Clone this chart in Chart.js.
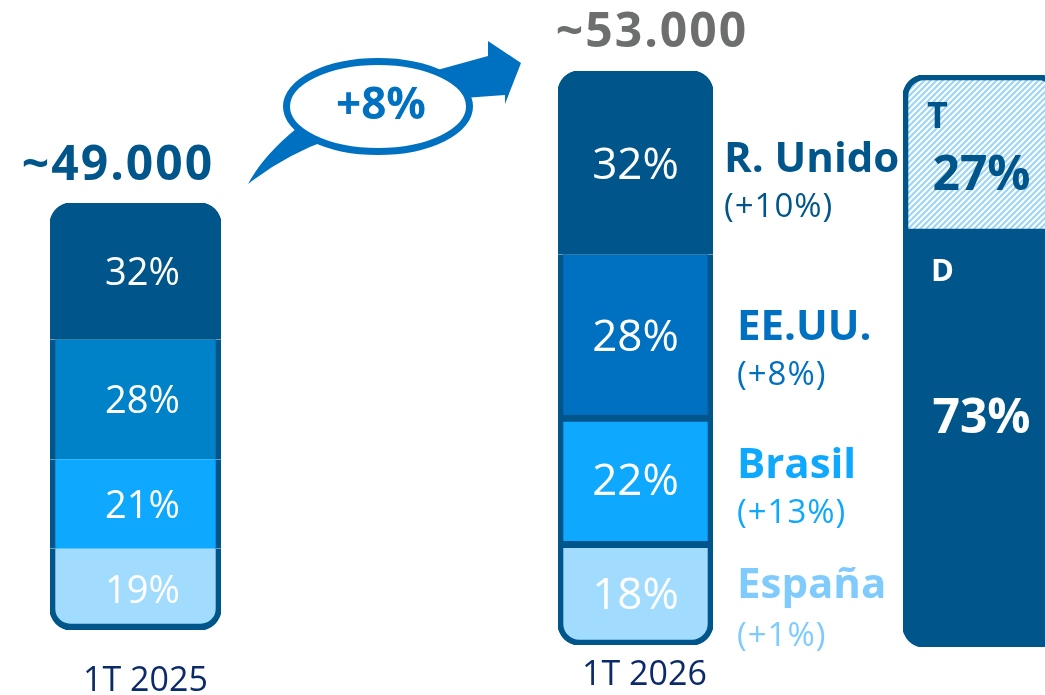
<!DOCTYPE html>
<html><head><meta charset="utf-8">
<script src="https://cdn.jsdelivr.net/npm/chart.js@4.4.1/dist/chart.umd.min.js"></script>
<style>
html,body{margin:0;padding:0;width:1045px;height:695px;overflow:hidden;background:#fff;font-family:'Open Sans',sans-serif;position:relative;}
canvas{position:absolute;top:0;}
.t{position:absolute;white-space:nowrap;line-height:1;font-family:'Open Sans',sans-serif;}
svg{position:absolute;left:0;top:0;}
</style></head><body>
<canvas id="c1" width="171" height="760" style="left:50px"></canvas>
<canvas id="c2" width="155" height="760" style="left:558px"></canvas>
<canvas id="c3" width="157" height="760" style="left:903px"></canvas>
<svg width="1045" height="695">
  <path d="M248 184 Q 265 152 306 121 L 330 139 Q 285 155 248 184 Z" fill="#0070C0"/>
  <path d="M430 72 L488 56 L488 41 L521 63 L505 104 L505 95 L450 99 Z" fill="#0070C0"/>
  <ellipse cx="378" cy="106.5" rx="91.5" ry="45" fill="#fff" stroke="#0070C0" stroke-width="7"/>
</svg>
<div id="ann"></div>
<script>
// ---- data ----
const countries = ['España', 'Brasil', 'EE.UU.', 'R. Unido'];
const countryGrowth = ['+1%', '+13%', '+8%', '+10%'];
const periods = ['1T 2025', '1T 2026'];
const share2025 = [19, 21, 28, 32];
const share2026 = [18, 22, 28, 32];
const totals = ['~49.000', '~53.000'];
const totalGrowth = '+8%';
const mixLabels = ['D', 'T'];
const mixShares = [73, 27];

// ---- styles ----
const DARK = '#00568A';
const colors2025 = ['#A1DCFF', '#0EA8FF', '#0082C8', DARK];
const colors2026 = ['#A1DCFF', '#0EA8FF', '#0070C0', DARK];
const legendColors = ['#7FCBFE', '#0EA8FF', '#0070C0', DARK];
Chart.defaults.font.family = "'Open Sans', sans-serif";

// hatch pattern
function makeHatch(ctx) {
  const s = 6, c = document.createElement('canvas');
  c.width = c.height = s;
  const g = c.getContext('2d');
  g.fillStyle = '#fff'; g.fillRect(0, 0, s, s);
  g.strokeStyle = '#9DD6F8'; g.lineWidth = 2.2; g.beginPath();
  g.moveTo(-1, s + 1); g.lineTo(s + 1, -1);
  g.moveTo(-1, 1); g.lineTo(1, -1);
  g.moveTo(s - 1, s + 1); g.lineTo(s + 1, s - 1);
  g.stroke();
  return ctx.createPattern(c, 'repeat');
}

// labels inside segments
const segLabels = {
  id: 'segLabels',
  afterDatasetsDraw(chart, args, opts) {
    const ctx = chart.ctx;
    chart.data.datasets.forEach((ds, i) => {
      const meta = chart.getDatasetMeta(i);
      const st = (opts.styles && opts.styles[i]) || opts;
      meta.data.forEach((el, j) => {
        const v = ds.data[j];
        if (v == null) return;
        const p = el.getProps(['x', 'y', 'base', 'width'], true);
        const top = Math.min(p.y, p.base), bot = Math.max(p.y, p.base);
        const cy = (top + bot) / 2;
        ctx.save();
        ctx.font = st.font; ctx.fillStyle = st.color; ctx.textAlign = 'center';
        const txt = v + '%';
        const m = ctx.measureText(txt);
        ctx.fillText(txt, p.x + (st.dx || 0), cy + (st.dy || 0) + m.actualBoundingBoxAscent / 2);
        if (st.tag) {
          ctx.font = st.tag.font; ctx.fillStyle = st.tag.color; ctx.textAlign = 'left';
          const mt = ctx.measureText(ds.label);
          ctx.fillText(ds.label, p.x - p.width / 2 + st.tag.dx, top + st.tag.capTop + mt.actualBoundingBoxAscent);
        }
        ctx.restore();
      });
    });
  }
};

function baseOptions(padTop, padBottom, tickPad, lineHeight, labelOffset, showX, labelStyles) {
  return {
    responsive: false, animation: false,
    layout: { padding: { top: padTop, bottom: padBottom, left: 0, right: 0 } },
    datasets: { bar: { categoryPercentage: 1, barPercentage: 1, inflateAmount: 0.7 } },
    scales: {
      x: { stacked: true, display: showX, grid: { display: false, drawTicks: false }, border: { display: false },
           ticks: { font: { size: 34, lineHeight: lineHeight }, color: '#0B2A6A', padding: tickPad, labelOffset: labelOffset } },
      y: { stacked: true, display: false, min: 0, max: 100 }
    },
    plugins: { legend: { display: false }, tooltip: { enabled: false }, segLabels: labelStyles }
  };
}

// chart 1: 1T 2025
const bw1 = [
  { left: 6, right: 6, top: 0, bottom: 7 },
  { left: 6, right: 6, top: 0, bottom: 0 },
  { left: 6, right: 6, top: 0, bottom: 0 },
  { left: 6, right: 6, top: 6, bottom: 0 }];
const br = [
  { topLeft: 0, topRight: 0, bottomLeft: 22, bottomRight: 22 }, 0, 0,
  { topLeft: 22, topRight: 22, bottomLeft: 0, bottomRight: 0 }];
new Chart(document.getElementById('c1'), {
  type: 'bar', plugins: [segLabels],
  data: {
    labels: [periods[0]],
    datasets: share2025.map((v, i) => ({
      label: countries[i], data: [v], backgroundColor: colors2025[i], borderColor: DARK,
      borderWidth: bw1[i], borderRadius: br[i], borderSkipped: false }))
  },
  options: baseOptions(203, 28, 10, 82 / 34, 10, true, { font: "400 38px 'Open Sans'", color: '#fff', dx: 7 })
});

// chart 2: 1T 2026
const bw2 = [
  { left: 6, right: 6, top: 7, bottom: 6 },
  { left: 6, right: 6, top: 7, bottom: 0 },
  { left: 6, right: 6, top: 0, bottom: 0 },
  { left: 6, right: 6, top: 6, bottom: 0 }];
new Chart(document.getElementById('c2'), {
  type: 'bar', plugins: [segLabels],
  data: {
    labels: [periods[1]],
    datasets: share2026.map((v, i) => ({
      label: countries[i], data: [v], backgroundColor: colors2026[i], borderColor: DARK,
      borderWidth: bw2[i], borderRadius: br[i], borderSkipped: false }))
  },
  options: baseOptions(71, 55, 13, 1, 9, true, { font: "400 44px 'Open Sans'", color: '#fff', dx: 0 })
});

// chart 3: D / T mix
const c3 = document.getElementById('c3');
const hatch = makeHatch(c3.getContext('2d'));
new Chart(c3, {
  type: 'bar', plugins: [segLabels],
  data: {
    labels: [''],
    datasets: [
      { label: mixLabels[0], data: [mixShares[0]], backgroundColor: DARK, borderColor: DARK, borderWidth: 0,
        borderRadius: { topLeft: 0, topRight: 0, bottomLeft: 22, bottomRight: 22 }, borderSkipped: false },
      { label: mixLabels[1], data: [mixShares[1]], backgroundColor: hatch, borderColor: DARK,
        borderWidth: { left: 6, right: 6, top: 6, bottom: 0 },
        borderRadius: { topLeft: 22, topRight: 22, bottomLeft: 0, bottomRight: 0 }, borderSkipped: false }
    ]
  },
  options: baseOptions(75, 113, 0, 1, 0, false, { styles: [
    { font: "700 48px 'Open Sans'", color: '#fff', dx: 0, dy: -23,
      tag: { font: "700 31px 'Open Sans'", color: '#fff', dx: 28, capTop: 30 } },
    { font: "700 48px 'Open Sans'", color: DARK, dx: 0, dy: 20,
      tag: { font: "700 36px 'Open Sans'", color: DARK, dx: 24, capTop: 27 } }
  ] })
});

// ---- annotations (real text) ----
const ann = document.getElementById('ann');
function place(text, opt) {
  const d = document.createElement('div');
  d.className = 't';
  d.textContent = text;
  d.style.fontSize = opt.fs + 'px';
  d.style.fontWeight = opt.w || 400;
  d.style.color = opt.color;
  if (opt.ls) d.style.letterSpacing = opt.ls + 'px';
  d.style.top = (opt.capTop - 0.174 * opt.fs) + 'px';
  if (opt.cx != null) { d.style.left = (opt.cx - 200) + 'px'; d.style.width = '400px'; d.style.textAlign = 'center'; }
  else d.style.left = opt.x + 'px';
  ann.appendChild(d);
}
const totalPos = [{ cx: 118, capTop: 146, color: DARK }, { cx: 652, capTop: 13, color: '#6D6E6E' }];
totals.forEach((t, i) => place(t, { fs: 48, w: 700, ls: 2, ...totalPos[i] }));
place(totalGrowth, { cx: 381, capTop: 88, fs: 44, w: 700, color: '#0070C0' });
const legX = [737, 737, 737, 724];
const nameCap = [568, 448, 310, 142];
const growCap = [623, 500, 362, 194];
countries.forEach((c, i) => {
  place(c, { x: legX[i], capTop: nameCap[i], fs: 42, w: 700, color: legendColors[i] });
  place('(' + countryGrowth[i] + ')', { x: legX[i], capTop: growCap[i], fs: 33, w: 400, ls: 1, color: legendColors[i] });
});
</script>
</body></html>
